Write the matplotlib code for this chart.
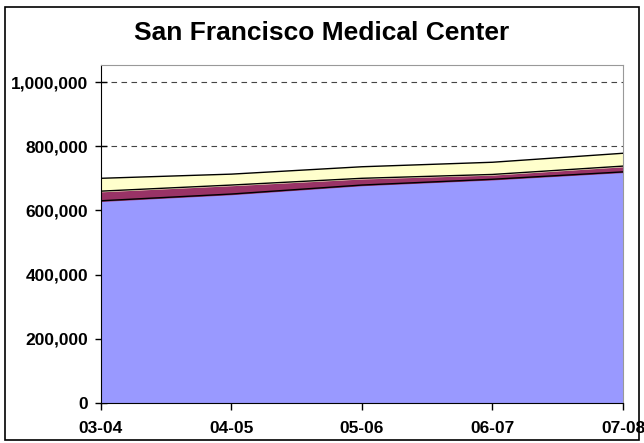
import numpy as np
import matplotlib
matplotlib.use('Agg')
import matplotlib.pyplot as plt
from matplotlib.patches import Rectangle
from matplotlib.ticker import FuncFormatter

# Values (stacked series)
years = ['03-04', '04-05', '05-06', '06-07', '07-08']
series_a = [630000, 651000, 679000, 697000, 720000]
series_b = [30000, 28000, 21000, 15000, 18000]
series_c = [40000, 34000, 36000, 38000, 40000]

plt.rcParams['font.family'] = ['Liberation Sans', 'DejaVu Sans']

fig = plt.figure(figsize=(6.44, 4.43), dpi=100)
fig.patches.append(Rectangle((0.008, 0.007), 0.984, 0.978, transform=fig.transFigure,
                             fill=False, edgecolor='black', linewidth=1.2))
ax = fig.add_axes([0.1568, 0.0903, 0.8106, 0.763])

x = np.arange(len(years))
a = np.array(series_a)
b = a + np.array(series_b)
c = b + np.array(series_c)

ax.fill_between(x, 0, a, color='#9999FF', zorder=2)
ax.fill_between(x, a, b, color='#993366', zorder=2)
ax.fill_between(x, b, c, color='#FFFFCC', zorder=2)
for top in (a, b, c):
    ax.plot(x, top, color='black', linewidth=1.0, zorder=3)

ax.set_xlim(0, 4)
ax.set_ylim(0, 1053000)
ax.set_yticks([0, 200000, 400000, 600000, 800000, 1000000])
ax.yaxis.set_major_formatter(FuncFormatter(lambda v, p: f'{int(v):,}'))
ax.set_xticks(x)
ax.set_xticklabels(years)
ax.yaxis.grid(True, linestyle=(0, (5, 4)), color='#444444', linewidth=0.8, zorder=1)
ax.set_axisbelow(True)

for lab in ax.get_xticklabels() + ax.get_yticklabels():
    lab.set_fontweight('bold')
    lab.set_fontsize(12.5)
ax.tick_params(axis='y', direction='inout', length=8, width=1, pad=5)
ax.tick_params(axis='x', direction='out', length=5, width=1, pad=8)

ax.spines['left'].set_color('black')
ax.spines['bottom'].set_color('black')
ax.spines['top'].set_color('#999999')
ax.spines['right'].set_color('#999999')

fig.text(0.5, 0.925, 'San Francisco Medical Center', ha='center', va='center',
         fontsize=19, fontweight='bold')

fig.savefig('out.png', dpi=100)
